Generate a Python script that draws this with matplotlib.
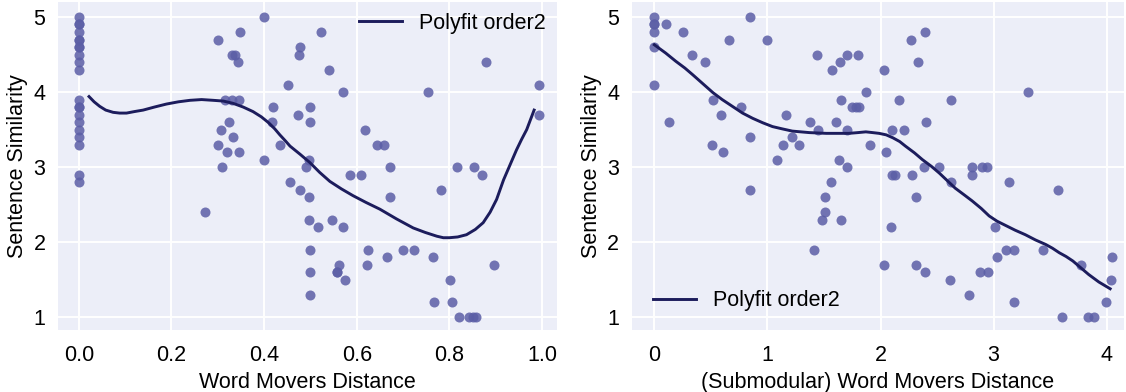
import numpy as np
import matplotlib
matplotlib.use("Agg")
import matplotlib.pyplot as plt

# ---- left panel: Word Movers Distance ----
wmd_x = [0.0] * 21 + [
    0.272, 0.30, 0.348, 0.33, 0.338, 0.344, 0.315, 0.33, 0.346, 0.325, 0.307,
    0.332, 0.30, 0.32, 0.345, 0.31, 0.40, 0.40, 0.42, 0.416, 0.434, 0.452,
    0.477, 0.475, 0.523, 0.54, 0.57, 0.473, 0.499, 0.499, 0.618, 0.643, 0.659,
    0.754, 0.879, 0.993, 0.993, 0.497, 0.49, 0.457, 0.477, 0.497, 0.585, 0.609,
    0.672, 0.672, 0.782, 0.817, 0.853, 0.871, 0.497, 0.516, 0.546, 0.57,
    0.499, 0.499, 0.499, 0.562, 0.557, 0.557, 0.575, 0.624, 0.622, 0.665,
    0.70, 0.724, 0.765, 0.801, 0.767, 0.806, 0.821, 0.842, 0.85, 0.857, 0.896]
wmd_y = [5.0, 4.9, 4.9, 4.8, 4.7, 4.7, 4.6, 4.6, 4.5, 4.4, 4.3,
         3.9, 3.8, 3.8, 3.7, 3.6, 3.5, 3.4, 3.3, 2.9, 2.8] + [
    2.4, 4.7, 4.8, 4.5, 4.5, 4.4, 3.9, 3.9, 3.9, 3.6, 3.5,
    3.4, 3.3, 3.2, 3.2, 3.0, 5.0, 3.1, 3.8, 3.6, 3.3, 4.1,
    4.6, 4.5, 4.8, 4.3, 4.0, 3.7, 3.8, 3.6, 3.5, 3.3, 3.3,
    4.0, 4.4, 4.1, 3.7, 3.1, 3.0, 2.8, 2.7, 2.6, 2.9, 2.9,
    3.0, 2.6, 2.7, 3.0, 3.0, 2.9, 2.3, 2.2, 2.3, 2.2,
    1.9, 1.6, 1.3, 1.7, 1.6, 1.6, 1.5, 1.9, 1.7, 1.8,
    1.9, 1.9, 1.8, 1.5, 1.2, 1.2, 1.0, 1.0, 1.0, 1.0, 1.7]

# fitted curve
wmd_fit_x = [0.022, 0.033, 0.045, 0.058, 0.074, 0.088, 0.103, 0.12, 0.139,
             0.163, 0.189, 0.215, 0.24, 0.265, 0.29, 0.312, 0.333, 0.355,
             0.376, 0.394, 0.41, 0.423, 0.434, 0.446, 0.456, 0.478, 0.499,
             0.52, 0.542, 0.567, 0.592, 0.62, 0.65, 0.686, 0.722, 0.748,
             0.773, 0.787, 0.80, 0.818, 0.837, 0.856, 0.873, 0.888, 0.902,
             0.917, 0.931, 0.945, 0.956, 0.967, 0.975, 0.983]
wmd_fit_y = [3.94, 3.87, 3.81, 3.76, 3.73, 3.72, 3.72, 3.74, 3.76,
             3.80, 3.84, 3.87, 3.89, 3.90, 3.89, 3.88, 3.85, 3.80,
             3.74, 3.67, 3.59, 3.51, 3.43, 3.35, 3.28, 3.17, 3.06,
             2.93, 2.81, 2.71, 2.62, 2.53, 2.44, 2.31, 2.19, 2.13,
             2.08, 2.06, 2.06, 2.07, 2.10, 2.17, 2.26, 2.40, 2.57,
             2.83, 3.03, 3.23, 3.37, 3.50, 3.63, 3.76]

# ---- right panel: (Submodular) Word Movers Distance ----
swmd_x = [0, 0, 0, 0, 0, 0, 0.107, 0.256, 0.33, 0.45, 0.66, 0.85, 1.0,
          0.133, 0.52, 0.59, 0.77, 0.51, 0.61, 0.85, 0.85, 1.166, 1.14, 1.22,
          1.28, 1.087, 1.38, 1.45, 1.44, 1.57, 1.64, 1.70, 1.80, 1.65, 1.61,
          1.70, 1.63, 1.70, 1.56, 1.51, 2.27, 2.39, 2.33, 2.03, 1.87, 1.75,
          1.78, 1.81, 2.16, 2.62, 3.30, 2.40, 2.10, 2.21, 1.91, 2.05, 2.10,
          2.13, 2.28, 2.38, 2.52, 2.62, 2.81, 2.90, 2.94, 2.81, 3.14, 3.57,
          2.31, 1.51, 1.48, 1.65, 1.41, 2.09, 2.03, 2.31, 2.39, 2.61, 2.78,
          2.88, 2.95, 3.01, 3.03, 3.11, 3.18, 3.18, 3.44, 3.77, 3.60, 3.83,
          3.89, 3.99, 4.04, 4.05]
swmd_y = [5.0, 4.9, 4.9, 4.8, 4.6, 4.1, 4.9, 4.8, 4.5, 4.4, 4.7, 5.0, 4.7,
          3.6, 3.9, 3.7, 3.8, 3.3, 3.2, 3.4, 2.7, 3.7, 3.3, 3.4,
          3.3, 3.1, 3.6, 3.5, 4.5, 4.3, 4.4, 4.5, 4.5, 3.9, 3.6,
          3.5, 3.1, 3.0, 2.8, 2.6, 4.7, 4.8, 4.4, 4.3, 4.0, 3.8,
          3.8, 3.8, 3.9, 3.9, 4.0, 3.6, 3.5, 3.5, 3.3, 3.2, 2.9,
          2.9, 2.9, 3.0, 3.0, 2.8, 3.0, 3.0, 3.0, 2.9, 2.8, 2.7,
          2.6, 2.4, 2.3, 2.3, 1.9, 2.2, 1.7, 1.7, 1.6, 1.5, 1.3,
          1.6, 1.6, 2.2, 1.8, 1.9, 1.9, 1.2, 1.9, 1.7, 1.0, 1.0,
          1.0, 1.2, 1.5, 1.8]

swmd_fit_x = [0.0, 0.1, 0.19, 0.27, 0.34, 0.43, 0.52, 0.6, 0.69, 0.78, 0.87,
              0.96, 1.045, 1.13, 1.22, 1.37, 1.52, 1.62, 1.72, 1.80, 1.87,
              1.93, 1.987, 2.05, 2.11, 2.17, 2.22, 2.30, 2.37, 2.45, 2.52,
              2.59, 2.66, 2.74, 2.81, 2.89, 2.96, 3.03, 3.11, 3.19, 3.28,
              3.37, 3.46, 3.52, 3.58, 3.64, 3.70, 3.77, 3.84, 3.93, 4.03]
swmd_fit_y = [4.63, 4.52, 4.41, 4.32, 4.23, 4.11, 3.99, 3.90, 3.81, 3.72, 3.65,
              3.59, 3.54, 3.51, 3.48, 3.46, 3.45, 3.45, 3.45, 3.46, 3.47,
              3.46, 3.45, 3.43, 3.39, 3.34, 3.28, 3.19, 3.10, 3.01, 2.92,
              2.82, 2.72, 2.63, 2.55, 2.45, 2.35, 2.28, 2.22, 2.16, 2.10,
              2.03, 1.97, 1.92, 1.86, 1.81, 1.75, 1.66, 1.57, 1.47, 1.38]

plt.rcParams['font.family'] = ['Liberation Sans', 'DejaVu Sans']
plt.rcParams['font.size'] = 15.5

bg = '#eceef8'
dot = '#5b5ea6'
line = '#1c1c5c'

fig = plt.figure(figsize=(11.26, 3.92), dpi=100)
ax1 = fig.add_axes([0.0515, 0.158, 0.443, 0.837])
ax2 = fig.add_axes([0.561, 0.158, 0.437, 0.837])

for ax in (ax1, ax2):
    ax.set_facecolor(bg)
    ax.grid(True, color='white', linewidth=1.4)
    ax.set_axisbelow(True)
    for s in ax.spines.values():
        s.set_visible(False)
    ax.tick_params(length=0)
    ax.tick_params(axis='y', pad=9)
    ax.tick_params(axis='x', pad=11)
    ax.set_ylim(0.83, 5.2)
    ax.set_yticks([1, 2, 3, 4, 5])
    ax.set_ylabel('Sentence Similarity', labelpad=4)

ax1.scatter(wmd_x, wmd_y, s=52, color=dot, alpha=0.85, linewidths=0, zorder=2)
ax1.plot(wmd_fit_x, wmd_fit_y, color=line, lw=2.1, label='Polyfit order2',
         zorder=3, solid_joinstyle='round')
ax1.set_xlim(-0.045, 1.032)
ax1.set_xticks([0.0, 0.2, 0.4, 0.6, 0.8, 1.0])
ax1.set_xlabel('Word Movers Distance', labelpad=4)
ax1.legend(loc='upper right', frameon=False, borderaxespad=0.1,
           handlelength=2.0, handletextpad=0.8)

ax2.scatter(swmd_x, swmd_y, s=52, color=dot, alpha=0.85, linewidths=0, zorder=2)
ax2.plot(swmd_fit_x, swmd_fit_y, color=line, lw=2.1, label='Polyfit order2',
         zorder=3, solid_joinstyle='round')
ax2.set_xlim(-0.2, 4.15)
ax2.set_xticks([0, 1, 2, 3, 4])
ax2.set_xlabel('(Submodular) Word Movers Distance', labelpad=4)
ax2.legend(loc='lower left', frameon=False, bbox_to_anchor=(0.012, 0.012),
           borderaxespad=0.3, handlelength=2.0, handletextpad=0.8)

fig.savefig('out.png', dpi=100)
